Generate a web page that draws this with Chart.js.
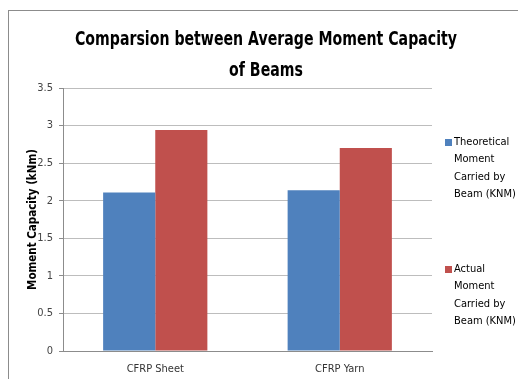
<!DOCTYPE html>
<html>
<head>
<meta charset="utf-8">
<script src="https://cdn.jsdelivr.net/npm/chart.js@4"></script>
<style>
  html, body { margin: 0; padding: 0; background: #fff; }
  body { width: 518px; height: 379px; overflow: hidden; position: relative; }
  #frame { position: absolute; left: 8px; top: 10px; width: 520px; height: 380px; border: 1px solid #8c8c8c; }
  #wrap { position: absolute; left: 0; top: 0; width: 509px; height: 368px; }
</style>
</head>
<body>
<div id="frame"><div id="wrap"><canvas id="c"></canvas></div></div>
<script>
  const categories = ['CFRP Sheet', 'CFRP Yarn'];
  const theoretical = [2.11, 2.14];
  const actual = [2.94, 2.70];
  const seriesLabels = [
    ['Theoretical', 'Moment', 'Carried by', 'Beam (KNM)'],
    ['Actual', 'Moment', 'Carried by', 'Beam (KNM)']
  ];
  const titleLines = ['Comparsion between Average Moment Capacity', 'of Beams'];
  const yTitle = 'Moment Capacity (kNm)';

  const NARROW = "'DejaVu Sans Condensed', 'Liberation Sans', sans-serif";

  // title drawn by hand, squeezed sideways to look like the narrow original font
  const narrowTitle = {
    id: 'narrowTitle',
    afterDraw(chart) {
      const ctx = chart.ctx;
      ctx.save();
      ctx.font = 'bold 20px ' + NARROW;
      ctx.fillStyle = '#000';
      ctx.textAlign = 'center';
      ctx.textBaseline = 'middle';
      const k = 382 / ctx.measureText(titleLines[0]).width;
      titleLines.forEach((line, i) => {
        ctx.save();
        ctx.translate(257, 29 + i * 31);
        ctx.scale(k, 1);
        ctx.fillText(line, 0, 0);
        ctx.restore();
      });
      ctx.restore();
    }
  };

  // legend drawn by hand so the two entries sit apart like the original
  const sideLegend = {
    id: 'sideLegend',
    afterDraw(chart) {
      const ctx = chart.ctx;
      const x = chart.chartArea.right + 13;
      const tops = [125, 252];
      ctx.save();
      ctx.font = '11px ' + NARROW;
      ctx.textBaseline = 'middle';
      chart.data.datasets.forEach((ds, i) => {
        ctx.fillStyle = ds.backgroundColor;
        ctx.fillRect(x, tops[i] + 3, 7, 7);
        ctx.fillStyle = '#000';
        ds.label.forEach((line, j) => ctx.fillText(line, x + 9, tops[i] + 6 + j * 17.5));
      });
      ctx.restore();
    }
  };

  new Chart(document.getElementById('c'), {
    type: 'bar',
    data: {
      labels: categories,
      datasets: [
        { label: seriesLabels[0], data: theoretical, backgroundColor: '#4F81BD', borderWidth: 0 },
        { label: seriesLabels[1], data: actual, backgroundColor: '#C0504D', borderWidth: 0 }
      ]
    },
    options: {
      responsive: true, maintainAspectRatio: false, animation: false,
      layout: { padding: { top: 77, left: 0, right: 0, bottom: 0 } },
      datasets: { bar: { categoryPercentage: 0.565, barPercentage: 1 } },
      plugins: {
        legend: { display: false },
        tooltip: { enabled: false },
        title: { display: false }
      },
      scales: {
        x: {
          grid: { display: false, drawTicks: false },
          border: { color: '#8c8c8c' },
          ticks: { color: '#333', padding: 12, font: { family: NARROW, size: 11 } },
          afterFit: s => { s.height = 28; }
        },
        y: {
          min: 0, max: 3.5,
          ticks: { stepSize: 0.5, color: '#444', padding: 6, font: { family: NARROW, size: 11 },
                   callback: v => String(v) },
          grid: { color: '#bdbdbd', tickLength: 4, tickColor: '#8c8c8c' },
          border: { color: '#8c8c8c' },
          title: { display: true, text: yTitle, color: '#000', font: { family: NARROW, size: 11.5, weight: 'bold' },
                   padding: { top: 17, bottom: 0 } },
          afterFit: s => { s.width = 54; }
        },
        // empty right-hand axis only reserves room for the side legend
        side: {
          position: 'right', min: 0, max: 1,
          grid: { display: false, drawTicks: false },
          border: { display: false },
          ticks: { display: false },
          afterFit: s => { s.width = 86; }
        }
      }
    },
    plugins: [narrowTitle, sideLegend]
  });
</script>
</body>
</html>
